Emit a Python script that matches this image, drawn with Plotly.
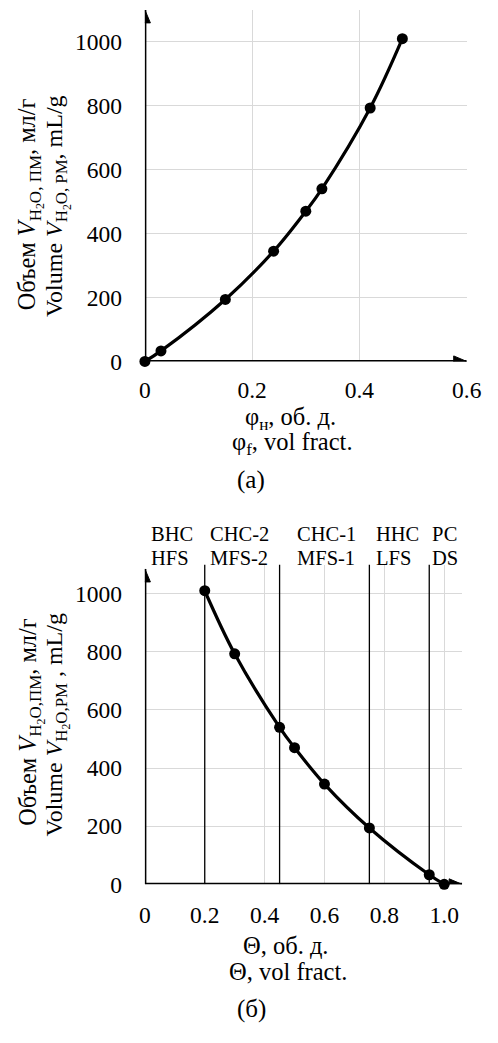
import plotly.graph_objects as go

W, H = 498, 1043
FONT = "Liberation Serif, Times New Roman, serif"

# ---------------- data ----------------
phi_f = [0, 0.03, 0.15, 0.24, 0.30, 0.33, 0.42, 0.48]
volume_a = [0, 33, 194, 345, 470, 540, 793, 1010]

theta = [0.2, 0.3, 0.45, 0.5, 0.6, 0.75, 0.95, 1.0]
volume_b = [1010, 793, 540, 470, 345, 194, 33, 0]

zone_bounds = [0.2, 0.45, 0.75, 0.95]
zone_ru = ["ВНС", "СНС-2", "СНС-1", "ННС", "РС"]
zone_en = ["HFS", "MFS-2", "MFS-1", "LFS", "DS"]
zone_label_x = [0.015, 0.21, 0.5, 0.767, 0.953]

x_ticks_a = [0, 0.2, 0.4, 0.6]
x_ticklabels_a = ["0", "0.2", "0.4", "0.6"]
x_ticks_b = [0, 0.2, 0.4, 0.6, 0.8, 1.0]
x_ticklabels_b = ["0", "0.2", "0.4", "0.6", "0.8", "1.0"]
y_ticks = [0, 200, 400, 600, 800, 1000]
y_ticklabels = ["0", "200", "400", "600", "800", "1000"]


def py(px):
    return 1 - px / H


def pxx(px):
    return px / W


fig = go.Figure()

fig.add_trace(go.Scatter(
    x=phi_f, y=volume_a, mode="lines+markers",
    line=dict(shape="spline", color="black", width=3.2),
    marker=dict(size=11, color="black"),
    cliponaxis=False, xaxis="x", yaxis="y", showlegend=False))

fig.add_trace(go.Scatter(
    x=theta, y=volume_b, mode="lines+markers",
    line=dict(shape="spline", color="black", width=3.2),
    marker=dict(size=11, color="black"),
    cliponaxis=False, xaxis="x2", yaxis="y2", showlegend=False))

tickfont = dict(family=FONT, size=23.5, color="black")
common = dict(showgrid=True, gridcolor="#d9d9d9", gridwidth=1, zeroline=False,
              showline=False, ticks="", tickfont=tickfont, tickmode="array")

fig.update_layout(
    width=W, height=H, margin=dict(l=0, r=0, t=0, b=0),
    paper_bgcolor="white", plot_bgcolor="white",
    font=dict(family=FONT, color="black"),
    xaxis=dict(domain=[pxx(145), pxx(481)], range=[0, 0.6], anchor="y",
               tickvals=x_ticks_a, ticktext=x_ticklabels_a, ticklabelstandoff=12, **common),
    yaxis=dict(domain=[py(366), py(10)], range=[0, 1100], anchor="x",
               tickvals=y_ticks, ticktext=y_ticklabels, ticklabelstandoff=22, **common),
    xaxis2=dict(domain=[pxx(145), pxx(476.25)], range=[0, 1.06], anchor="y2",
                tickvals=x_ticks_b, ticktext=x_ticklabels_b, ticklabelstandoff=14, **common),
    yaxis2=dict(domain=[py(895.5), py(571.7)], range=[0, 1100], anchor="x2",
                tickvals=y_ticks, ticktext=y_ticklabels, ticklabelstandoff=22, **common),
)

shapes = []
# axis lines
for xr, yr, xmax, ymax in [("x", "y", 0.6, 1100), ("x2", "y2", 1.06, 1085)]:
    shapes.append(dict(type="line", xref=xr, yref=yr, x0=0, x1=0, y0=0, y1=ymax,
                       line=dict(color="black", width=3), layer="above"))
    shapes.append(dict(type="line", xref=xr, yref=yr, x0=0, x1=xmax, y0=0, y1=0,
                       line=dict(color="black", width=3), layer="above"))
    # arrowheads
    shapes.append(dict(type="path", xref=xr, yref=yr, xsizemode="pixel", ysizemode="pixel",
                       xanchor=0, yanchor=ymax, path="M-5.5,-13 L0,0 L5.5,-13 Z",
                       fillcolor="black", line=dict(color="black", width=1), layer="above"))
    shapes.append(dict(type="path", xref=xr, yref=yr, xsizemode="pixel", ysizemode="pixel",
                       xanchor=xmax, yanchor=0, path="M0,0 L-13,5.5 L-13,-5.5 Z",
                       fillcolor="black", line=dict(color="black", width=1), layer="above"))

# zone boundaries
for b in zone_bounds:
    shapes.append(dict(type="line", xref="x2", yref="y2", x0=b, x1=b, y0=0, y1=1100,
                       line=dict(color="black", width=1.3), layer="between"))

fig.update_layout(shapes=shapes)

ann = []


def text(x, y, s, size=24.5, xref="paper", xanchor="center", angle=0):
    ann.append(dict(x=x, y=y, xref=xref, yref="paper", text=s, showarrow=False,
                    xanchor=xanchor, yanchor="middle", textangle=angle,
                    font=dict(family=FONT, size=size, color="black")))


# y-axis titles
text(pxx(26), py(207), "Объем <i>V</i><sub>H<sub>2</sub>O, ПМ</sub>, мл/г", size=24.3, angle=-90)
text(pxx(54), py(209), "Volume <i>V</i><sub>H<sub>2</sub>O, PM</sub>, mL/g", size=24, angle=-90)
text(pxx(26), py(731), "Объем <i>V</i><sub>H<sub>2</sub>O,ПМ</sub>, мл/г", size=24.3, angle=-90)
text(pxx(54), py(734), "Volume <i>V</i><sub>H<sub>2</sub>O,PM</sub> , mL/g", size=24, angle=-90)

# x-axis titles
text(pxx(297), py(424), "φ<sub>н</sub>, об. д.")
text(pxx(299), py(449), "φ<sub>f</sub>, vol fract.")
text(pxx(256), py(486), "(a)", size=25)
text(pxx(292), py(957.5), "Θ, об. д.")
text(pxx(294), py(983.5), "Θ, vol fract.")
text(pxx(256), py(1022), "(б)", size=25)

# zone labels
for xz, ru, en in zip(zone_label_x, zone_ru, zone_en):
    ann.append(dict(x=xz, y=py(540.7), xref="x2", yref="paper", text=ru, showarrow=False,
                    xanchor="left", yanchor="middle",
                    font=dict(family=FONT, size=20.5, color="black")))
    ann.append(dict(x=xz, y=py(565), xref="x2", yref="paper", text=en, showarrow=False,
                    xanchor="left", yanchor="middle",
                    font=dict(family=FONT, size=20.5, color="black")))

fig.update_layout(annotations=ann)

fig.write_html("out.html")
